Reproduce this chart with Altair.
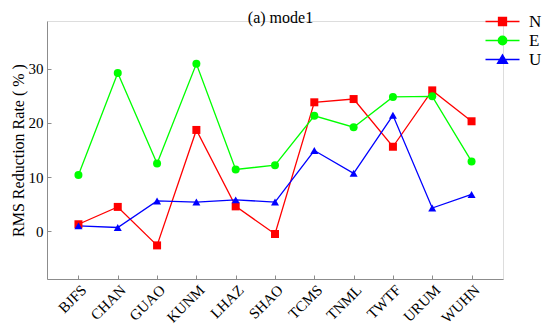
import altair as alt
import pandas as pd

stations = ["BJFS", "CHAN", "GUAO", "KUNM", "LHAZ", "SHAO", "TCMS", "TNML", "TWTF", "URUM", "WUHN"]
n_vals = [1.3, 4.5, -2.6, 18.7, 4.6, -0.5, 23.8, 24.4, 15.6, 26.0, 20.3]
e_vals = [10.4, 29.2, 12.5, 30.9, 11.4, 12.2, 21.3, 19.2, 24.8, 24.9, 12.9]
u_vals = [1.0, 0.7, 5.6, 5.4, 5.8, 5.4, 14.9, 10.7, 21.4, 4.3, 6.8]
series = ["N", "E", "U"]
colors = ["#ff0000", "#00ff00", "#0000ff"]
shapes = ["square", "circle", "triangle-up"]
y_ticks = [0, 10, 20, 30]
chart_title = "(a) mode1"
y_title = "RMS Reduction Rate ( % )"

rows = []
for name, vals in zip(series, [n_vals, e_vals, u_vals]):
    for st, v in zip(stations, vals):
        rows.append({"station": st, "series": name, "value": v})
df = pd.DataFrame(rows)

FONT = "Liberation Serif"
W, H = 456, 258
YDOM = [-8.8, 38.8]
AXIS_GRAY = "#8c8c8c"

# legend symbols: a line segment with the marker on it
PATH_N = "M-3.4,0H3.4M-0.8,-0.8H0.8V0.8H-0.8Z"
PATH_E = "M-3.4,0H3.4M-0.85,0A0.85,0.85,0,1,0,0.85,0A0.85,0.85,0,1,0,-0.85,0Z"
PATH_U = "M-3.4,0H3.4M0,-0.95L1.0,0.75H-1.0Z"
shape_expr = (
    f"datum.value === 'N' ? '{PATH_N}' : (datum.value === 'E' ? '{PATH_E}' : '{PATH_U}')"
)


def make_legend():
    return alt.Legend(
        title=None,
        orient="none",
        legendX=447,
        legendY=-8,
        labelFont=FONT,
        labelFontSize=17,
        labelColor="black",
        labelOffset=18,
        symbolSize=100,
        symbolType={"expr": shape_expr},
        symbolStrokeColor={"expr": "scale('color', datum.value)"},
        symbolFillColor={"expr": "scale('color', datum.value)"},
        symbolStrokeWidth=1.3,
        symbolOpacity=1,
        rowPadding=1,
    )


color_scale = alt.Scale(domain=series, range=colors)
x_scale = alt.Scale(domain=stations, padding=0.8)
y_scale = alt.Scale(domain=YDOM, nice=False, zero=False)

base = alt.Chart(df)

lines = base.mark_line(strokeWidth=1.3).encode(
    x=alt.X("station:N", sort=stations, scale=x_scale,
            axis=alt.Axis(orient="bottom", title=chart_title,
                          titleFont=FONT, titleFontSize=16, titleFontWeight="normal",
                          titleColor="black", titleX=W / 2 + 5, titleY=-H + 1.5,
                          titleAlign="center", titleBaseline="alphabetic", titleAngle=0,
                          labelAngle=-45, labelAlign="right",
                          labelBaseline="top", labelPadding=3, labelFont=FONT, labelFontSize=15,
                          labelColor="black", ticks=False, tickSize=0, domainColor=AXIS_GRAY,
                          grid=False)),
    y=alt.Y("value:Q", scale=y_scale,
            axis=alt.Axis(orient="left", values=y_ticks, title=y_title,
                          titleFont=FONT, titleFontSize=16, titleFontWeight="normal",
                          titleColor="black", titleX=-24, titleY=H / 2, titleAngle=270,
                          titleAlign="center", titleBaseline="alphabetic",
                          labelFont=FONT, labelFontSize=15, labelColor="black", labelPadding=4,
                          ticks=False, tickSize=0, domainColor=AXIS_GRAY, grid=False)),
    color=alt.Color("series:N", scale=color_scale, sort=series, legend=make_legend()),
    detail="series:N",
)

point_layers = []
for name, shp in zip(series, shapes):
    point_layers.append(
        base.transform_filter(alt.datum.series == name)
        .mark_point(filled=True, size=64, opacity=1, shape=shp)
        .encode(
            x=alt.X("station:N", sort=stations, scale=x_scale,
                    axis=alt.Axis(orient="top", offset=-H, title=None, labels=False,
                                  domain=False, ticks=True, tickSize=4, tickColor=AXIS_GRAY,
                                  grid=False)),
            y=alt.Y("value:Q", scale=y_scale,
                    axis=alt.Axis(orient="right", offset=-W, values=y_ticks, title=None,
                                  labels=False, domain=False, ticks=True, tickSize=4,
                                  tickColor=AXIS_GRAY, grid=False)),
            color=alt.Color("series:N", scale=color_scale, sort=series, legend=make_legend()),
        )
    )
points = alt.layer(*point_layers)

chart = (
    alt.layer(lines, points)
    .resolve_scale(x="independent", y="independent")
    .properties(
        width=W,
        height=H,
        autosize=alt.AutoSizeParams(type="none"),
        padding={"left": 39, "top": 13, "right": 39, "bottom": 46},
    )
    .configure_view(stroke=None)
    .configure(background="white")
)

chart.save("out.html", embed_options={"renderer": "svg", "actions": False})
